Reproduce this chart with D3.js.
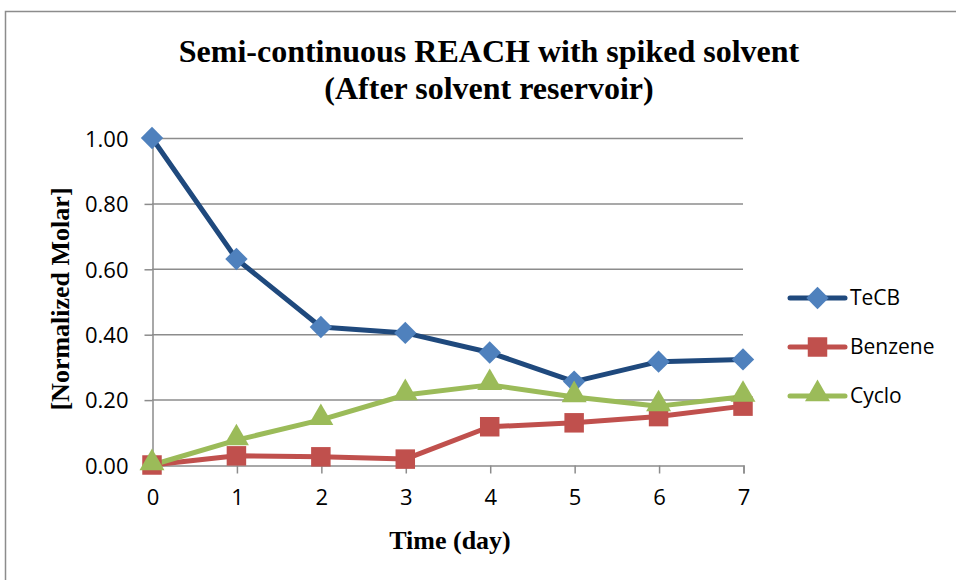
<!DOCTYPE html>
<html>
<head>
<meta charset="utf-8">
<style>
  body { margin: 0; background: #fff; }
  svg text { fill: #000; }
</style>
<script src="https://cdn.jsdelivr.net/npm/d3@7"></script>
</head>
<body>
<div id="chart"></div>
<script>
// data
var days = [0, 1, 2, 3, 4, 5, 6, 7];
var tecb = [1.00, 0.63, 0.422, 0.404, 0.344, 0.255, 0.316, 0.323];
var benzene = [0.00, 0.028, 0.025, 0.018, 0.117, 0.129, 0.148, 0.180];
var cyclo = [0.00, 0.076, 0.138, 0.214, 0.245, 0.208, 0.180, 0.209];
var yTicks = [0, 0.2, 0.4, 0.6, 0.8, 1.0];

var series = [
    { name: "TeCB", values: tecb, line: "#1F497D", fill: "#4F81BD", shape: d3.symbolSquare, rot: 45, size: 250 },
    { name: "Benzene", values: benzene, line: "#C0504D", fill: "#C0504D", shape: d3.symbolSquare, rot: 0, size: 380 },
    { name: "Cyclo", values: cyclo, line: "#9BBB59", fill: "#9BBB59", shape: d3.symbolTriangle, rot: 0, size: 270 }
];

var width = 956, height = 580;
var tickFont = "'Open Sans', 'Noto Sans', sans-serif";
var serif = "'Liberation Serif', 'Times New Roman', serif";

var svg = d3.select("#chart").append("svg")
    .attr("width", width).attr("height", height);

// outer frame (runs off the right and bottom)
svg.append("path")
    .attr("d", "M5.5,600 V11.5 H960")
    .attr("fill", "none").attr("stroke", "#8c8c8c").attr("stroke-width", 1.5);

var x = d3.scaleLinear().domain([0, 7]).range([152, 743]);
var y = d3.scaleLinear().domain([0, 1]).range([465, 138]);

// gridlines
svg.append("g").selectAll("line")
    .data(yTicks.slice(1))
    .enter().append("line")
    .attr("x1", x(0)).attr("x2", x(7))
    .attr("y1", function (d) { return y(d) + 0.5; })
    .attr("y2", function (d) { return y(d) + 0.5; })
    .attr("stroke", "#8c8c8c").attr("stroke-width", 1.5);

// y axis
var yAxis = svg.append("g")
    .attr("transform", "translate(" + (x(0) + 0.5) + ",0.5)")
    .call(d3.axisLeft(y).tickValues(yTicks).tickFormat(d3.format(".2f")).tickSizeOuter(0).tickSize(8).tickPadding(16));
yAxis.select(".domain").attr("stroke", "#8c8c8c").attr("stroke-width", 1.5);
yAxis.selectAll(".tick line").attr("stroke", "#8c8c8c").attr("stroke-width", 1.5);
yAxis.selectAll("text").style("font-family", tickFont).style("font-size", "22px").attr("dy", "0.35em");

// x axis
var xAxis = svg.append("g")
    .attr("transform", "translate(0.5," + (y(0) + 0.5) + ")")
    .call(d3.axisBottom(x).tickValues(days).tickFormat(d3.format("d")).tickSizeOuter(0).tickSize(8).tickPadding(16));
xAxis.select(".domain").attr("stroke", "#8c8c8c").attr("stroke-width", 1.5);
xAxis.selectAll(".tick line").attr("stroke", "#8c8c8c").attr("stroke-width", 1.5);
xAxis.selectAll("text").style("font-family", tickFont).style("font-size", "22px");

// lines
var line = d3.line()
    .x(function (d, i) { return x(days[i]); })
    .y(function (d) { return y(d); });

series.forEach(function (s) {
    svg.append("path")
        .datum(s.values)
        .attr("d", line)
        .attr("fill", "none")
        .attr("stroke", s.line)
        .attr("stroke-width", 5)
        .attr("stroke-linejoin", "round");
});

// markers
function markerTransform(s, px, py) {
    var dy = s.shape === d3.symbolTriangle ? -2 : 0;
    return "translate(" + px + "," + (py + dy) + ") rotate(" + s.rot + ")";
}

series.forEach(function (s) {
    svg.append("g").selectAll("path")
        .data(s.values)
        .enter().append("path")
        .attr("d", d3.symbol().type(s.shape).size(s.size))
        .attr("transform", function (d, i) { return markerTransform(s, x(days[i]), y(d)); })
        .attr("fill", s.fill);
});

// titles
var title = svg.append("text")
    .attr("text-anchor", "middle")
    .style("font-family", serif)
    .style("font-weight", "bold")
    .style("font-size", "32px");
title.append("tspan").attr("x", 489).attr("y", 62).text("Semi-continuous REACH with spiked solvent");
title.append("tspan").attr("x", 489).attr("y", 99).text("(After solvent reservoir)");

svg.append("text")
    .attr("x", 450).attr("y", 549)
    .attr("text-anchor", "middle")
    .style("font-family", serif)
    .style("font-weight", "bold")
    .style("font-size", "26px")
    .text("Time (day)");

svg.append("text")
    .attr("transform", "translate(69,299) rotate(-90)")
    .attr("text-anchor", "middle")
    .style("font-family", serif)
    .style("font-weight", "bold")
    .style("font-size", "26px")
    .text("[Normalized Molar]");

// legend
var legend = svg.append("g").selectAll("g")
    .data(series)
    .enter().append("g")
    .attr("transform", function (d, i) { return "translate(790," + (298 + i * 49) + ")"; });

legend.append("line")
    .attr("x1", 0).attr("x2", 55)
    .attr("stroke", function (d) { return d.line; })
    .attr("stroke-width", 5)
    .attr("stroke-linecap", "round");

legend.append("path")
    .attr("d", function (d) { return d3.symbol().type(d.shape).size(d.size)(); })
    .attr("transform", function (d) { return markerTransform(d, 27.5, 0); })
    .attr("fill", function (d) { return d.fill; });

legend.append("text")
    .attr("x", 60).attr("dy", "0.35em")
    .style("font-family", tickFont)
    .style("font-size", "21px")
    .text(function (d) { return d.name; });
</script>
</body>
</html>
